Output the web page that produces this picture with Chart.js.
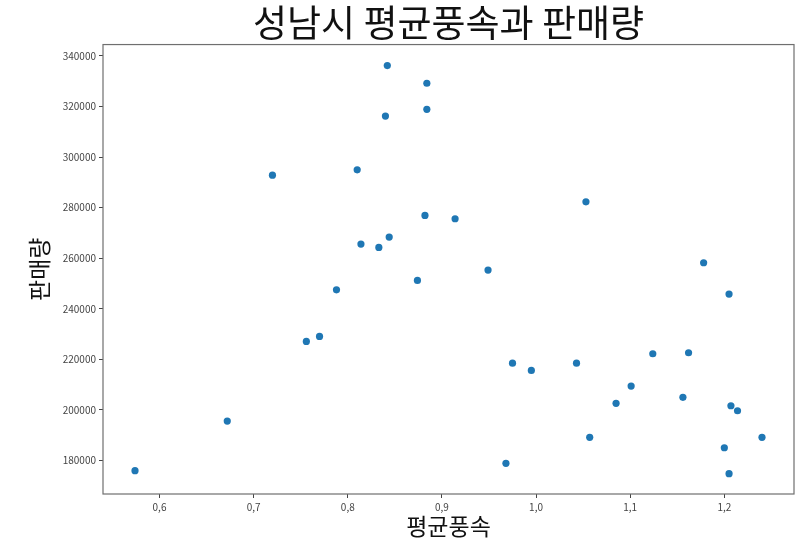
<!DOCTYPE html>
<html>
<head>
<meta charset="utf-8">
<script src="https://cdn.jsdelivr.net/npm/chart.js@4/dist/chart.umd.min.js"></script>
<style>
  html, body { margin: 0; padding: 0; background: #fff; }
  #wrap { width: 805px; height: 548px; position: relative; }
</style>
</head>
<body>
<div id="wrap"><canvas id="scatter"></canvas></div>
<script>
// ================= DATA =================
const windSpeed = [
  0.842, 0.884, 0.884, 0.840, 0.720, 0.810, 0.882, 0.914, 0.844, 0.814,
  0.833, 0.874, 0.788, 0.770, 0.756, 0.672, 0.574, 1.053, 0.949, 1.178,
  1.205, 0.975, 0.995, 1.043, 1.124, 1.162, 1.101, 1.085, 1.156, 1.207,
  1.214, 1.057, 1.240, 1.200, 0.968, 1.205
];
const sales = [
  336200, 329200, 318900, 316200, 292850, 294950, 276900, 275600, 268350, 265600,
  264250, 251200, 247500, 229070, 227100, 195600, 175950, 282300, 255300, 258200,
  245800, 218500, 215600, 218500, 222200, 222600, 209430, 202600, 204960, 201650,
  199670, 189150, 189150, 185040, 178870, 174760
];
const xTickValues = [0.6, 0.7, 0.8, 0.9, 1.0, 1.1, 1.2];
const xTickLabels = ["0,6", "0,7", "0,8", "0,9", "1,0", "1,1", "1,2"];
const yTickValues = [180000, 200000, 220000, 240000, 260000, 280000, 300000, 320000, 340000];

const chartTitle = "성남시 평균풍속과 판매량";
const xTitle = "평균풍속";
const yTitle = "판매량";

// ================= FRAME =================
// matplotlib-style box around the plot area, title centred over it
const framePlugin = {
  id: "frame",
  afterLayout(chart) {
    if (chart.titleBlock) {
      chart.titleBlock.left = chart.chartArea.left;
      chart.titleBlock.right = chart.chartArea.right;
    }
  },
  afterDraw(chart) {
    const { ctx, chartArea: a } = chart;
    ctx.save();
    ctx.strokeStyle = "#6f6f6f";
    ctx.lineWidth = 1.2;
    ctx.strokeRect(a.left, a.top, a.right - a.left, a.bottom - a.top);
    ctx.restore();
  }
};

const KFONT = "'Noto Sans CJK KR', 'Noto Sans', sans-serif";

// ================= CHART =================
new Chart(document.getElementById("scatter"), {
  type: "scatter",
  data: {
    datasets: [{
      data: windSpeed.map((v, i) => ({ x: v, y: sales[i] })),
      backgroundColor: "#1f77b4",
      borderWidth: 0,
      pointRadius: 3.6,
      pointHoverRadius: 3.6
    }]
  },
  options: {
    responsive: true,
    maintainAspectRatio: false,
    animation: false,
    layout: { padding: { left: 0, right: 11, top: 0, bottom: 0 } },
    plugins: {
      legend: { display: false },
      tooltip: { enabled: false },
      title: {
        display: true,
        text: chartTitle,
        color: "#111",
        font: { family: KFONT, size: 37, weight: "normal", lineHeight: 1.15 },
        padding: { top: 2, bottom: 0 }
      }
    },
    scales: {
      x: {
        type: "linear",
        min: 0.54,
        max: 1.274,
        afterBuildTicks: s => { s.ticks = xTickValues.map(v => ({ value: v })); },
        afterFit: s => { s.height = 54; },
        ticks: {
          color: "#444",
          font: { family: KFONT, size: 10 },
          padding: 3,
          callback: (v, i) => xTickLabels[i]
        },
        grid: { drawOnChartArea: false, drawTicks: true, tickLength: 4, color: "#444" },
        border: { display: false },
        title: {
          display: true,
          text: xTitle,
          color: "#111",
          font: { family: KFONT, size: 23, lineHeight: 1.2 },
          padding: { top: 0, bottom: 8 }
        }
      },
      y: {
        type: "linear",
        min: 166740,
        max: 344500,
        afterBuildTicks: s => { s.ticks = yTickValues.map(v => ({ value: v })); },
        afterFit: s => { s.width = 103; },
        ticks: {
          color: "#444",
          font: { family: KFONT, size: 10 },
          padding: 3,
          callback: v => String(v)
        },
        grid: { drawOnChartArea: false, drawTicks: true, tickLength: 4, color: "#444" },
        border: { display: false },
        title: {
          display: true,
          text: yTitle,
          color: "#111",
          font: { family: KFONT, size: 23, lineHeight: 1.2 },
          padding: { top: 25, bottom: 0 }
        }
      }
    }
  },
  plugins: [framePlugin]
});
</script>
</body>
</html>
